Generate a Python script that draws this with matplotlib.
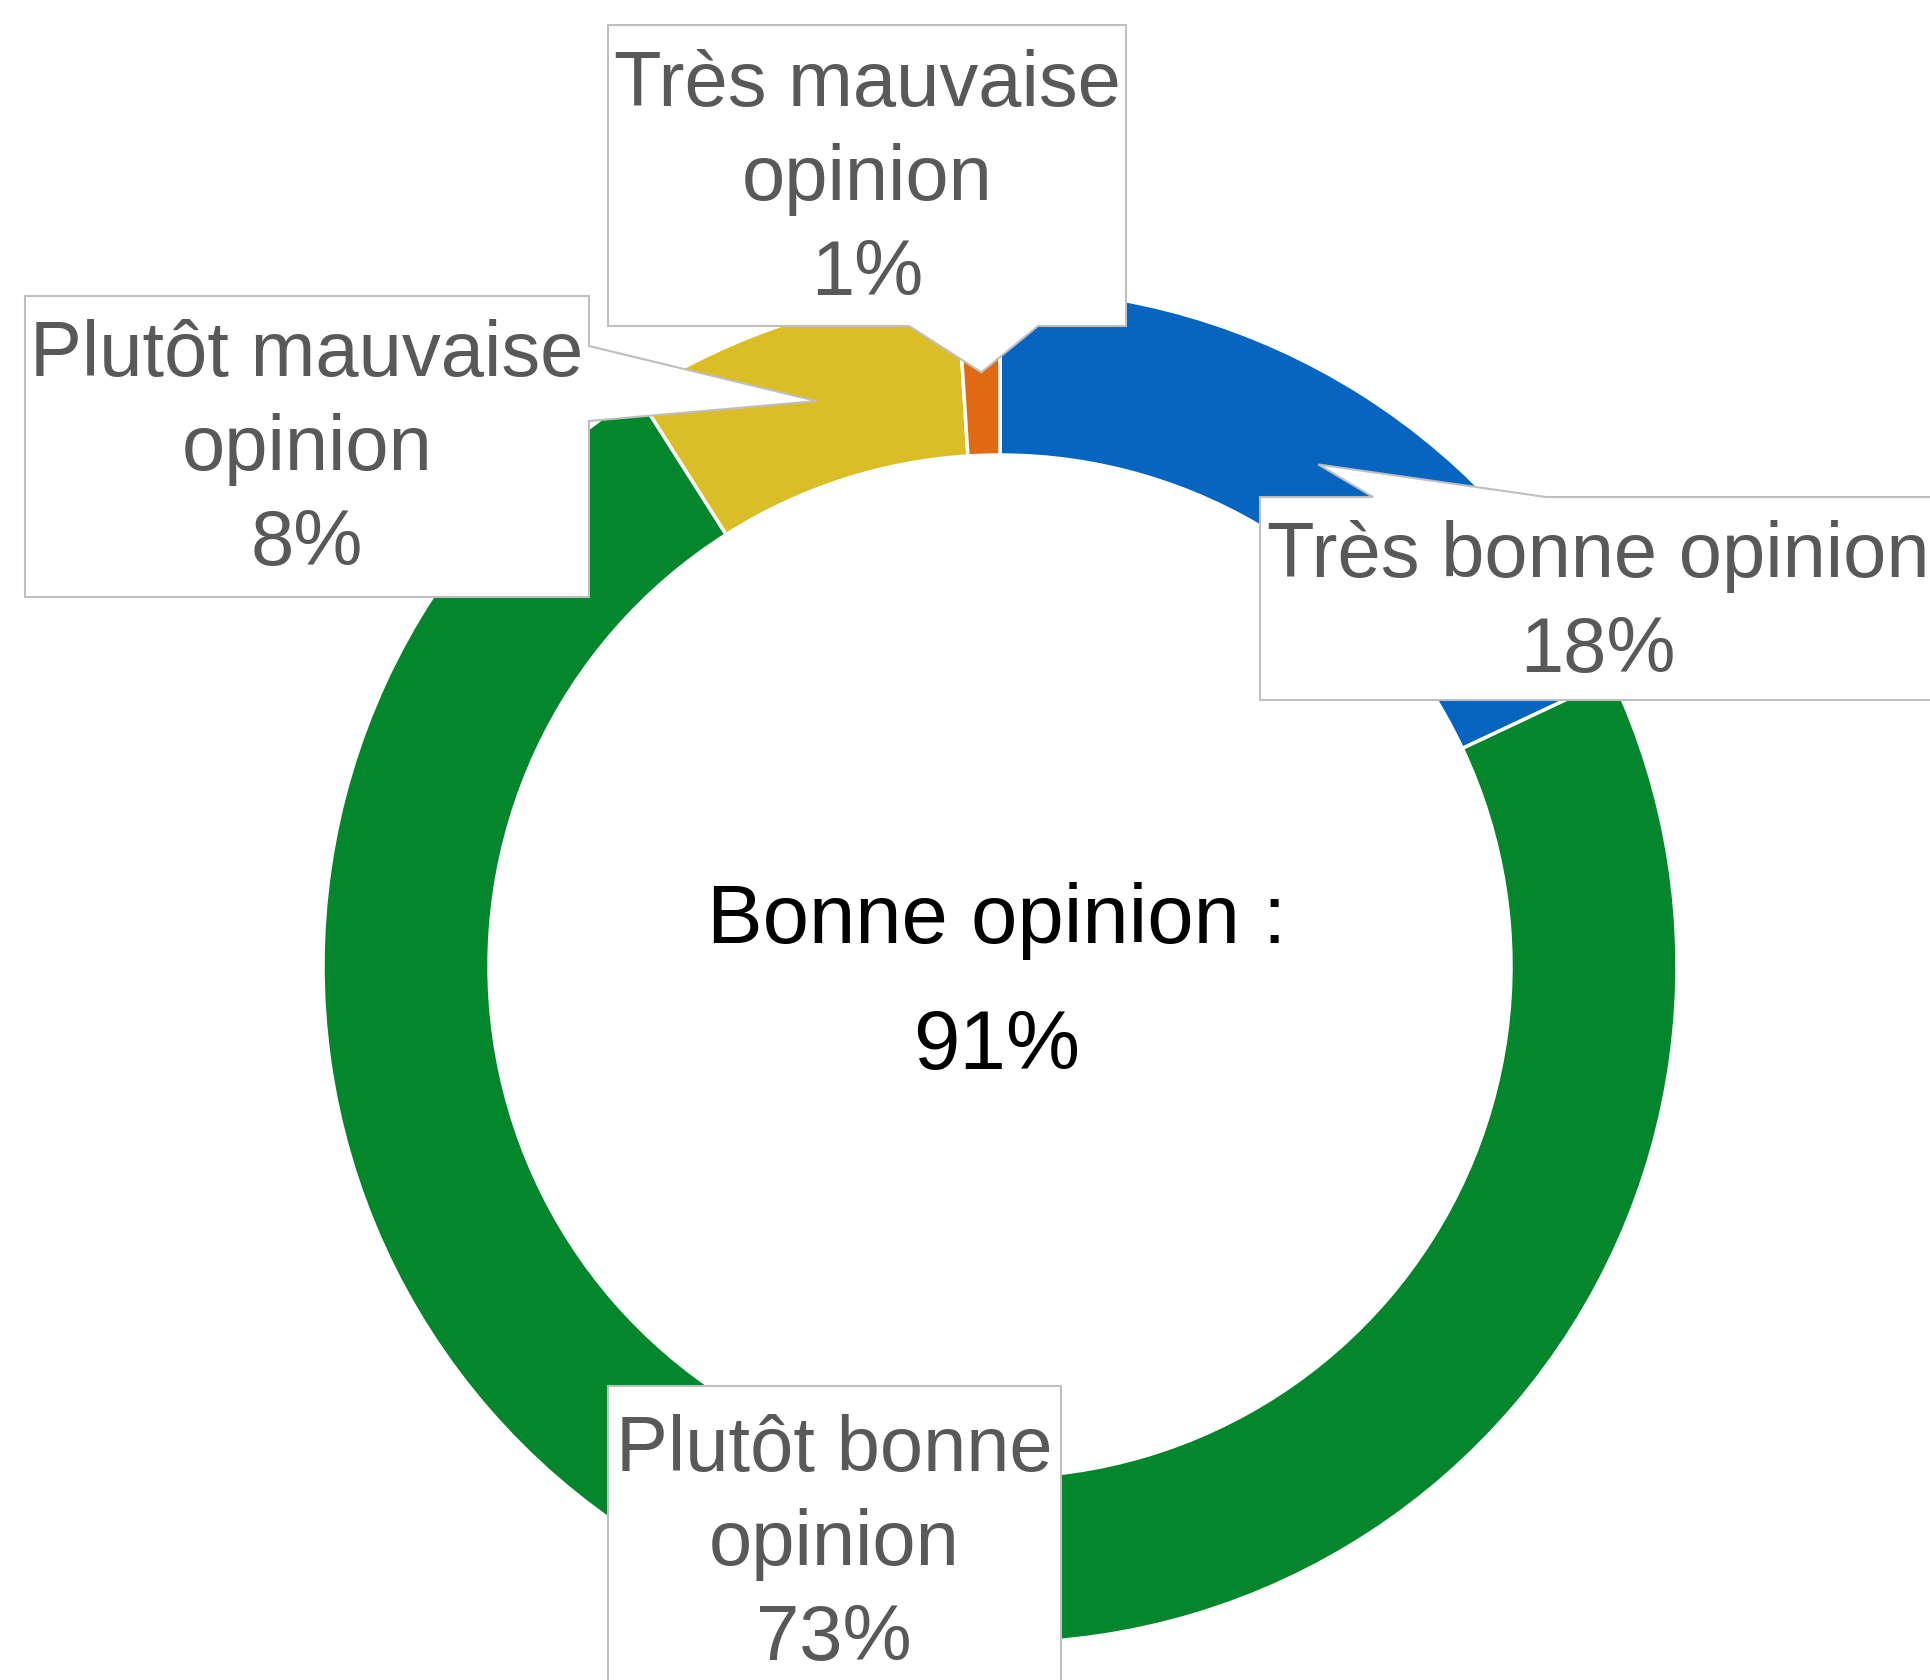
import matplotlib.pyplot as plt
import numpy as np
from matplotlib.patches import Polygon

plt.rcParams['font.family'] = ['Liberation Sans', 'DejaVu Sans']

W, H = 1931, 1681

# data: clockwise from the top
labels = ["Très bonne opinion", "Plutôt bonne\nopinion", "Plutôt mauvaise\nopinion", "Très mauvaise\nopinion"]
values = [18, 73, 8, 1]
colors = ["#0565C1", "#03862C", "#DBBD25", "#E06A13"]
center_title = "Bonne opinion :"
center_value = "{}%".format(values[0] + values[1])

TEXT_GREY = "#595959"
BOX_EDGE = "#BFBFBF"
LABEL_SIZE = 56

# donut geometry, pixels (y measured downward from top)
CX, CY = 1000, 967
R_OUT = 677
R_IN = 511

# callout boxes: (x0, y0, x1, y1) in pixels from top-left, pointer side and base span
boxes = [
    dict(rect=(1260, 498, 1940, 701), side="top", base=(1373, 1546)),
    dict(rect=(608, 1387, 1061, 1700), side=None, base=None),
    dict(rect=(25, 297, 589, 598), side="right", base=(347, 422)),
    dict(rect=(608, 26, 1126, 327), side="bottom", base=(909, 1038)),
]


def fy(y):
    # pixel-from-top -> axis y
    return H - y


fig = plt.figure(figsize=(W / 100, H / 100), dpi=100)
ax = fig.add_axes([0, 0, 1, 1])

wedges, _ = ax.pie(values, colors=colors, startangle=90, counterclock=False,
                   center=(CX, fy(CY)), radius=R_OUT, frame=True,
                   wedgeprops=dict(width=R_OUT - R_IN, edgecolor="white", linewidth=2.5))
ax.set_xlim(0, W)
ax.set_ylim(0, H)
ax.set_aspect("equal")
ax.axis("off")

r_mid = (R_OUT + R_IN) / 2.0

for i in range(len(values)):
    w = wedges[i]
    b = boxes[i]
    x0, y0, x1, y1 = b["rect"]

    theta = np.deg2rad((w.theta1 + w.theta2) / 2.0)
    tip = (CX + r_mid * np.cos(theta), fy(CY) + r_mid * np.sin(theta))

    side = b["side"]
    if side == "top":
        pts = [(x0, fy(y0)), (b["base"][0], fy(y0)), tip, (b["base"][1], fy(y0)),
               (x1, fy(y0)), (x1, fy(y1)), (x0, fy(y1))]
    elif side == "right":
        pts = [(x0, fy(y0)), (x1, fy(y0)), (x1, fy(b["base"][0])), tip,
               (x1, fy(b["base"][1])), (x1, fy(y1)), (x0, fy(y1))]
    elif side == "bottom":
        pts = [(x0, fy(y0)), (x1, fy(y0)), (x1, fy(y1)), (b["base"][1], fy(y1)), tip,
               (b["base"][0], fy(y1)), (x0, fy(y1))]
    else:
        pts = [(x0, fy(y0)), (x1, fy(y0)), (x1, fy(y1)), (x0, fy(y1))]

    ax.add_patch(Polygon(pts, closed=True, facecolor="white", edgecolor=BOX_EDGE,
                         linewidth=1.5, zorder=3))

text_pos = [(1598, 604), (834, 1545), (307, 450), (867, 180)]
for i in range(len(values)):
    tx, ty = text_pos[i]
    ax.text(tx, fy(ty), "{}\n{}%".format(labels[i], values[i]), ha="center", va="center",
            multialignment="center", fontsize=LABEL_SIZE, color=TEXT_GREY,
            linespacing=1.38, zorder=4)

ax.text(997, fy(943), center_title, ha="center", va="baseline", fontsize=60, color="black")
ax.text(997, fy(1069), center_value, ha="center", va="baseline", fontsize=60, color="black")

fig.savefig("out.png", dpi=100)
